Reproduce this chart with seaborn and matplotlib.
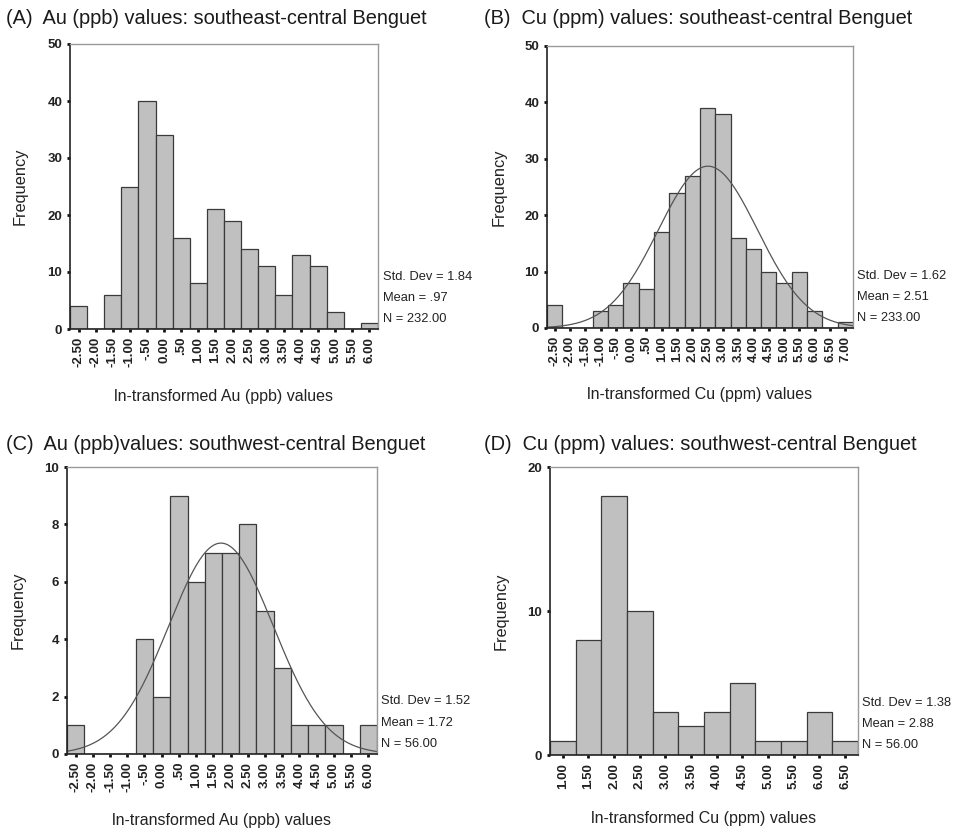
import numpy as np
import pandas as pd
import matplotlib
matplotlib.use("Agg")
import matplotlib.pyplot as plt
import seaborn as sns

sns.set_theme(style="white")
plt.rcParams["font.family"] = ["Liberation Sans", "DejaVu Sans"]

# ---- data (bin midpoints and frequencies) ----
a_mid = [-2.5, -2.0, -1.5, -1.0, -0.5, 0.0, 0.5, 1.0, 1.5, 2.0, 2.5, 3.0, 3.5, 4.0, 4.5, 5.0, 5.5, 6.0]
a_cnt = [4, 0, 6, 25, 40, 34, 16, 8, 21, 19, 14, 11, 6, 13, 11, 3, 0, 1]

b_mid = [-2.5, -2.0, -1.5, -1.0, -0.5, 0.0, 0.5, 1.0, 1.5, 2.0, 2.5, 3.0, 3.5, 4.0, 4.5, 5.0, 5.5, 6.0, 6.5, 7.0]
b_cnt = [4, 0, 0, 3, 4, 8, 7, 17, 24, 27, 39, 38, 16, 14, 10, 8, 10, 3, 0, 1]

c_mid = [-2.5, -2.0, -1.5, -1.0, -0.5, 0.0, 0.5, 1.0, 1.5, 2.0, 2.5, 3.0, 3.5, 4.0, 4.5, 5.0, 5.5, 6.0]
c_cnt = [1, 0, 0, 0, 4, 2, 9, 6, 7, 7, 8, 5, 3, 1, 1, 1, 0, 1]

d_mid = [1.0, 1.5, 2.0, 2.5, 3.0, 3.5, 4.0, 4.5, 5.0, 5.5, 6.0, 6.5]
d_cnt = [1, 8, 18, 10, 3, 2, 3, 5, 1, 1, 3, 1]

titles = ["(A)  Au (ppb) values: southeast-central Benguet",
          "(B)  Cu (ppm) values: southeast-central Benguet",
          "(C)  Au (ppb)values: southwest-central Benguet",
          "(D)  Cu (ppm) values: southwest-central Benguet"]
xlabels = ["ln-transformed Au (ppb) values", "ln-transformed Cu (ppm) values",
           "ln-transformed Au (ppb) values", "ln-transformed Cu (ppm) values"]
std_devs = [1.84, 1.62, 1.52, 1.38]
means = [0.97, 2.51, 1.72, 2.88]
ns = [232, 233, 56, 56]
mean_labels = [".97", "2.51", "1.72", "2.88"]
show_curve = [False, True, True, False]
yticks = [[0, 10, 20, 30, 40, 50], [0, 10, 20, 30, 40, 50], [0, 2, 4, 6, 8, 10], [0, 10, 20]]

W, H = 954, 832
fig = plt.figure(figsize=(W / 100, H / 100), dpi=100)

# pixel boxes: left, top, right, bottom
boxes = [(70, 44, 378, 329), (547, 46, 853, 328), (67, 467, 377, 754), (550, 467, 858, 755)]
title_pos = [(6, 18), (484, 18), (6, 444), (484, 444)]
stat_x = [383, 857, 381, 862]
stat_y = [(277, 298, 319), (276, 297, 318), (701, 723, 744), (703, 724, 745)]
xlabel_y = [397, 395, 820, 818]
ylabel_x = [28, 507, 26, 509]


def fmt(v):
    if v == 0:
        return "0.00"
    s = f"{v:.2f}"
    if abs(v) < 1:
        s = s.replace("0.", ".")
    return s


datasets = [(a_mid, a_cnt), (b_mid, b_cnt), (c_mid, c_cnt), (d_mid, d_cnt)]
binw = 0.5
for i, (mids, cnts) in enumerate(datasets):
    l, t, r, b = boxes[i]
    ax = fig.add_axes([l / W, 1 - b / H, (r - l) / W, (b - t) / H])
    df = pd.DataFrame({"x": mids, "n": cnts})
    edges = [float(m) - binw / 2 for m in mids] + [float(mids[-1]) + binw / 2]
    sns.histplot(data=df, x="x", weights="n", bins=edges, ax=ax,
                 color="#c0c0c0", edgecolor="#3a3a3a", linewidth=0.9, alpha=1)
    xmin, xmax = edges[0], edges[-1]
    if show_curve[i]:
        xs = np.linspace(xmin, xmax, 300)
        ys = ns[i] * binw * np.exp(-0.5 * ((xs - means[i]) / std_devs[i]) ** 2) / (std_devs[i] * np.sqrt(2 * np.pi))
        sns.lineplot(x=xs, y=ys, ax=ax, color="#555555", linewidth=0.9)
    ax.set_xlim(xmin, xmax)
    ax.set_ylim(0, yticks[i][-1])
    ax.set_xticks(mids)
    ax.set_xticklabels([fmt(v) for v in mids], rotation=90, fontsize=9.5, fontweight="bold", color="#222222")
    ax.set_yticks(yticks[i])
    ax.set_yticklabels([str(v) for v in yticks[i]], fontsize=9.5, fontweight="bold", color="#222222")
    ax.tick_params(axis="both", direction="out", length=2.5, width=2, color="#111111", pad=3)
    ax.tick_params(axis="x", bottom=True)
    ax.tick_params(axis="y", left=True)
    ax.set_xlabel("")
    ax.set_ylabel("Frequency", fontsize=11.8, color="#222222")
    ax.yaxis.set_label_coords((ylabel_x[i] - l) / (r - l), 0.5)
    for s in ["top", "right"]:
        ax.spines[s].set_color("#9a9a9a")
        ax.spines[s].set_linewidth(1.0)
    for s in ["left", "bottom"]:
        ax.spines[s].set_color("#222222")
        ax.spines[s].set_linewidth(1.2)
    ax.grid(False)
    # title
    tx, ty = title_pos[i]
    fig.text(tx / W, 1 - ty / H, titles[i], fontsize=14.4, color="#1a1a1a", ha="left", va="center")
    # x label
    fig.text(((l + r) / 2) / W, 1 - xlabel_y[i] / H, xlabels[i], fontsize=11.5, color="#222222",
             ha="center", va="center")
    # stats
    sy = stat_y[i]
    for txt, yy in zip([f"Std. Dev = {std_devs[i]:.2f}", f"Mean = {mean_labels[i]}", f"N = {ns[i]:.2f}"], sy):
        fig.text(stat_x[i] / W, 1 - yy / H, txt, fontsize=9.3, color="#222222", ha="left", va="center")

fig.savefig("out.png", dpi=100)
